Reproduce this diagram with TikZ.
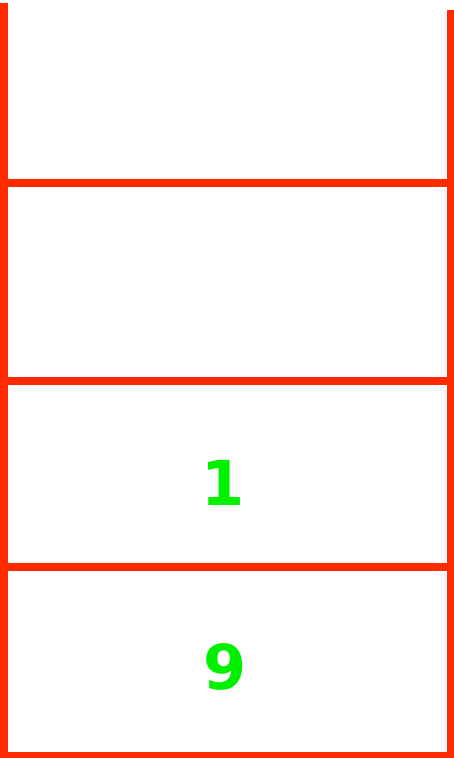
\documentclass[tikz,border=0pt]{standalone}
\usepackage{fontspec}
\newfontfamily\digitfont{DejaVu Sans}
\definecolor{wallred}{RGB}{255,42,0}
\definecolor{numgreen}{RGB}{0,240,0}
\begin{document}
\begin{tikzpicture}[x=1pt,y=-1pt,
  wall/.style={draw=wallred,line width=7.5pt,line cap=butt},
  num/.style={text=numgreen,font=\digitfont\bfseries\fontsize{62}{62}\selectfont,inner sep=0pt}]
\useasboundingbox (0,0) rectangle (454,758);
\coordinate (LT) at (4,3);
\coordinate (LB) at (4,758);
\coordinate (RT) at (450.5,9.5);
\coordinate (RB) at (450.5,758);
\draw[wall] (LT) -- (LB);
\draw[wall] (RT) -- (RB);
\foreach \yy in {183,381,567} {
  \draw[wall] (4,\yy) -- (450.5,\yy);
}
\draw[wall,line width=6.5pt] (0,755) -- (454,755);
\node[num] (one) at (223,483) {1};
\node[num] (nine) at (225,667) {9};
\end{tikzpicture}
\end{document}
